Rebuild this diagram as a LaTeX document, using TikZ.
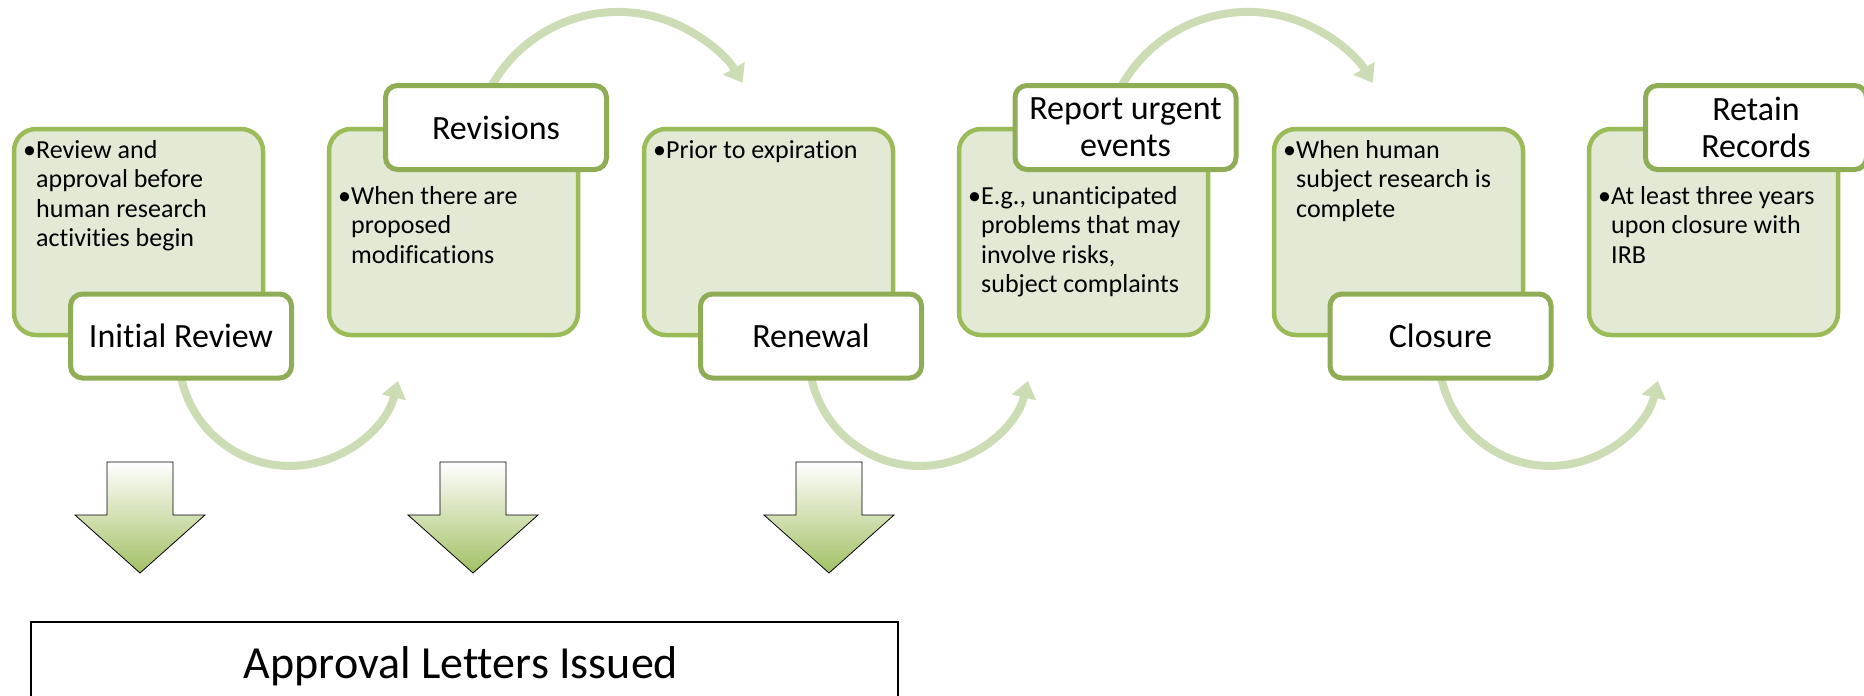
\documentclass[tikz,border=0pt]{standalone}
\usepackage{fontspec}
\setmainfont{Carlito}[Ligatures=NoCommon]
\usetikzlibrary{arrows.meta,positioning}

\definecolor{olive}{HTML}{9BBB59}
\definecolor{olivedark}{HTML}{8FAD55}
\definecolor{palegreen}{HTML}{E2EAD6}
\definecolor{arcgreen}{HTML}{CCDDB6}
\definecolor{arrowgreen}{HTML}{A2C063}

\newcommand{\bultext}[1]{\makebox[13pt][l]{\textbullet}\begin{tabular}[t]{@{}l@{}}#1\end{tabular}}

\tikzset{
  stagebox/.style={draw=olive, fill=palegreen, line width=4.5pt, rounded corners=22pt,
    minimum width=249pt, minimum height=206pt, anchor=north west, outer sep=0pt, inner sep=0pt},
  titlebox/.style={draw=olivedark, fill=white, line width=5pt, rounded corners=12pt,
    minimum width=221pt, minimum height=84pt, align=center, font=\fontsize{34}{37}\selectfont},
  bodytext/.style={anchor=base west, inner sep=0pt, font=\fontsize{26}{29.5}\selectfont},
  flowarc/.style={draw=arcgreen, line width=8pt, -{Triangle[length=17pt,width=24pt]}},
  downarrow/.style={draw=black, line width=0.8pt, top color=white, bottom color=arrowgreen},
}

\begin{document}
\begin{tikzpicture}[x=1pt, y=-1pt]
  \useasboundingbox (0,0) rectangle (1864,696);
  % curved arrows behind the stages
  \coordinate (arc1) at (180,370.4);
  \coordinate (arc2) at (484.5,100.3);
  \coordinate (arc3) at (810,370.4);
  \coordinate (arc4) at (1114.5,100.3);
  \coordinate (arc5) at (1440,370.4);
  \draw[flowarc] (arc1) arc[start angle=172, end angle=13.5, radius=111];
  \draw[flowarc] (arc2) arc[start angle=203, end angle=329.3, radius=145];
  \draw[flowarc] (arc3) arc[start angle=172, end angle=13.5, radius=111];
  \draw[flowarc] (arc4) arc[start angle=203, end angle=329.3, radius=145];
  \draw[flowarc] (arc5) arc[start angle=172, end angle=13.5, radius=111];
  %
  \node[stagebox] (initG) at (14,129) {};
  \node[stagebox] (revG) at (329,129) {};
  \node[stagebox] (renewG) at (644,129) {};
  \node[stagebox] (reportG) at (959,129) {};
  \node[stagebox] (closeG) at (1274,129) {};
  \node[stagebox] (retainG) at (1589,129) {};
  %
  \node[bodytext] (initB) at ([shift={(9,29)}]initG.north west) {\bultext{Review and\\approval before\\human research\\activities begin}};
  \node[bodytext] (revB) at ([shift={(9,75)}]revG.north west) {\bultext{When there are\\proposed\\modifications}};
  \node[bodytext] (renewB) at ([shift={(9,29)}]renewG.north west) {\bultext{Prior to expiration}};
  \node[bodytext] (reportB) at ([shift={(9,75)}]reportG.north west) {\bultext{E.g., unanticipated\\problems that may\\involve risks,\\subject complaints}};
  \node[bodytext] (closeB) at ([shift={(9,29)}]closeG.north west) {\bultext{When human\\subject research is\\complete}};
  \node[bodytext] (retainB) at ([shift={(9,75)}]retainG.north west) {\bultext{At least three years\\upon closure with\\IRB}};
  %
  \node[titlebox] (initT) at (181,336) {Initial Review};
  \node[titlebox] (revT) at (496,127.5) {Revisions};
  \node[titlebox] (renewT) at (811,336) {Renewal};
  \node[titlebox] (reportT) at (1125.5,127.5) {Report urgent\\events};
  \node[titlebox] (closeT) at (1440.5,336) {Closure};
  \node[titlebox] (retainT) at (1756,127.5) {Retain\\Records};
  %
  \foreach \cx in {140,473,829}
    \shadedraw[downarrow] (\cx-33,462) -- (\cx+33,462) -- (\cx+33,515) -- (\cx+65,515)
      -- (\cx,573) -- (\cx-65,515) -- (\cx-33,515) -- cycle;
  %
  \node[draw=black, line width=2pt, minimum width=867pt, minimum height=120pt, anchor=north west] (letters) at (30,621) {};
  \node[anchor=base, font=\fontsize{46}{50}\selectfont] (lettersT) at (461,678) {Approval Letters Issued};
\end{tikzpicture}
\end{document}
